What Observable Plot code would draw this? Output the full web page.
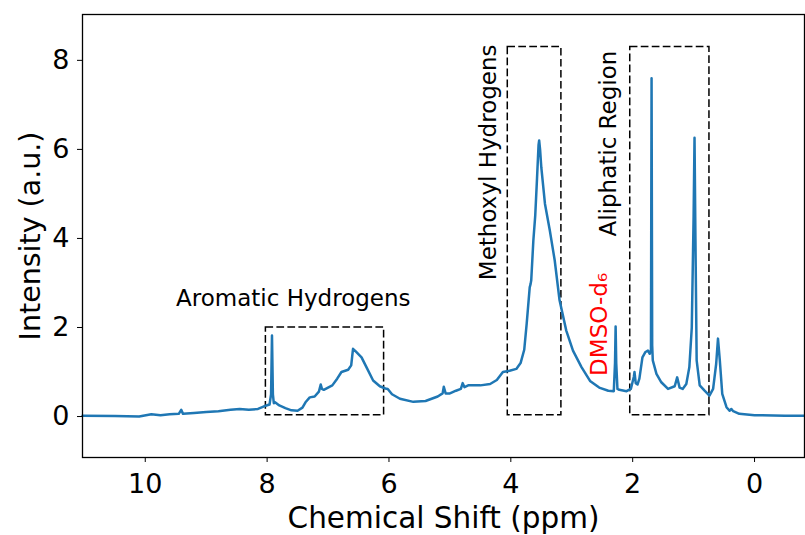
<!DOCTYPE html>
<html><head><meta charset="utf-8">
<script src="https://cdn.jsdelivr.net/npm/d3@7"></script>
<script src="https://cdn.jsdelivr.net/npm/@observablehq/plot@0.6"></script>
<style>body{margin:0;background:#fff}svg{display:block}</style>
</head><body><div id="chart"></div>
<script>
// Spectrum (chemical shift in ppm, intensity in a.u.)
const ppm = [11.03,10.5,10.1,9.9,9.75,9.6,9.45,9.41,9.38,9.2,9.0,8.8,8.6,8.45,8.3,8.15,8.05,7.96,7.935,7.92,7.905,7.89,7.87,7.8,7.7,7.6,7.5,7.42,7.37,7.3,7.22,7.15,7.12,7.10,7.07,7.0,6.93,6.85,6.78,6.67,6.62,6.59,6.55,6.45,6.37,6.26,6.15,6.06,6.02,5.95,5.82,5.6,5.4,5.2,5.12,5.10,5.07,5.0,4.9,4.82,4.79,4.76,4.7,4.5,4.34,4.23,4.13,4.02,3.91,3.84,3.78,3.74,3.69,3.675,3.665,3.63,3.60,3.57,3.545,3.535,3.52,3.50,3.44,3.36,3.28,3.2,3.09,2.98,2.84,2.7,2.55,2.4,2.31,2.29,2.28,2.27,2.25,2.22,2.1,2.03,1.98,1.97,1.95,1.92,1.89,1.84,1.79,1.75,1.72,1.70,1.69,1.68,1.67,1.61,1.53,1.42,1.31,1.27,1.23,1.18,1.12,1.07,1.03,1.0,0.985,0.97,0.95,0.90,0.82,0.74,0.68,0.63,0.60,0.57,0.53,0.46,0.41,0.38,0.35,0.25,0.0,-0.5,-0.82];
const intensity = [0.02,0.01,0.0,0.05,0.03,0.05,0.06,0.15,0.06,0.08,0.10,0.12,0.15,0.17,0.15,0.17,0.23,0.27,0.5,1.82,0.5,0.3,0.32,0.25,0.19,0.14,0.13,0.2,0.32,0.43,0.45,0.56,0.72,0.62,0.6,0.65,0.70,0.85,1.0,1.05,1.15,1.52,1.47,1.33,1.11,0.81,0.68,0.63,0.62,0.50,0.40,0.33,0.35,0.45,0.52,0.67,0.52,0.52,0.58,0.62,0.75,0.66,0.70,0.70,0.73,0.82,1.0,1.03,1.07,1.2,1.5,2.08,2.9,2.98,3.06,3.96,4.5,5.35,6.1,6.2,6.0,5.6,4.78,4.18,3.51,2.61,1.93,1.48,1.11,0.8,0.65,0.58,0.57,1.2,2.02,1.2,0.62,0.6,0.57,0.62,0.9,1.0,0.75,0.72,0.85,1.33,1.45,1.48,1.41,1.5,7.6,1.6,1.26,0.96,0.77,0.62,0.68,0.88,0.65,0.62,0.73,1.11,2.0,4.5,6.26,4.0,1.26,0.70,0.58,0.47,0.62,1.18,1.75,1.26,0.51,0.21,0.13,0.17,0.12,0.06,0.03,0.02,0.02];

const xTicks = [10, 8, 6, 4, 2, 0];
const yTicks = [0, 2, 4, 6, 8];
const xLabel = "Chemical Shift (ppm)";
const yLabel = "Intensity (a.u.)";

// Highlighted regions
const regionNames = ["Aromatic Hydrogens", "Methoxyl Hydrogens", "Aliphatic Region"];
const regionFrom = [8.02, 4.05, 2.04];
const regionTo = [6.08, 3.17, 0.74];
const regionLow = [0.03, 0.03, 0.03];
const regionHigh = [2.0, 8.3, 8.3];
const regionLabelX = [7.57, 4.36, 2.39];
const regionLabelY = [2.65, 5.71, 6.13];
const regionLabelRotate = [0, -90, -90];

const solventName = "DMSO-d₆";
const solventX = 2.54;
const solventY = 2.07;

const spectrum = ppm.map((p, i) => ({ppm: p, intensity: intensity[i]}));
const regions = regionNames.map((n, i) => ({
  name: n, x1: regionFrom[i], x2: regionTo[i], y1: regionLow[i], y2: regionHigh[i],
  lx: regionLabelX[i], ly: regionLabelY[i], rot: regionLabelRotate[i]
}));

const chart = Plot.plot({
  width: 805,
  height: 535,
  marginLeft: 82,
  marginRight: 1,
  marginTop: 14,
  marginBottom: 78,
  style: {fontFamily: "DejaVu Sans", background: "white", color: "black"},
  x: {domain: [11.03, -0.82]},
  y: {domain: [-0.92, 9.03]},
  marks: [
    Plot.rect(regions, {x1: "x1", x2: "x2", y1: "y1", y2: "y2", fill: "none", stroke: "black", strokeWidth: 1.5, strokeDasharray: "7.7,3.3"}),
    Plot.line(spectrum, {x: "ppm", y: "intensity", stroke: "#1f77b4", strokeWidth: 2.5, strokeLinejoin: "round"}),
    Plot.text(regions.filter(d => d.rot === 0), {x: "lx", y: "ly", text: "name", fontSize: 23, fill: "black"}),
    Plot.text(regions.filter(d => d.rot !== 0), {x: "lx", y: "ly", text: "name", fontSize: 23, fill: "black", rotate: -90}),
    Plot.text([solventName], {x: solventX, y: solventY, text: d => d, fontSize: 23, fill: "red", rotate: -90}),
    Plot.frame({stroke: "black", strokeWidth: 1.3}),
    Plot.axisX(xTicks, {tickSize: 5, tickPadding: 11, fontSize: 27, label: null}),
    Plot.axisY(yTicks, {tickSize: 5, tickPadding: 8, fontSize: 27, label: null}),
    Plot.text([xLabel], {frameAnchor: "bottom", dy: 61, lineAnchor: "middle", textAnchor: "middle", text: d => d, fontSize: 29.5, fill: "black"}),
    Plot.text([yLabel], {frameAnchor: "left", dx: -52, lineAnchor: "middle", textAnchor: "middle", text: d => d, fontSize: 28.5, fill: "black", rotate: -90})
  ]
});
document.getElementById("chart").appendChild(chart);
</script>
</body></html>
